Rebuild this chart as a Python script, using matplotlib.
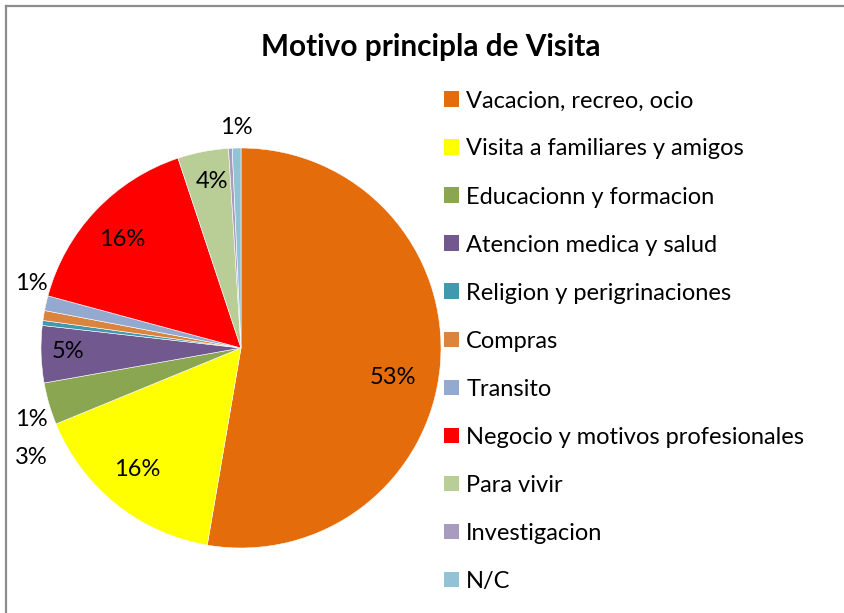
import matplotlib
matplotlib.use("Agg")
import matplotlib.pyplot as plt
import numpy as np
from matplotlib.lines import Line2D
from matplotlib.patches import Patch

plt.rcParams['font.family'] = ['Lato', 'DejaVu Sans']

title = "Motivo principla de Visita"
categories = [
    "Vacacion, recreo, ocio",
    "Visita a familiares y amigos",
    "Educacionn y formacion",
    "Atencion medica y salud",
    "Religion y perigrinaciones",
    "Compras",
    "Transito",
    "Negocio y motivos profesionales",
    "Para vivir",
    "Investigacion",
    "N/C",
]
shares = [52.7, 16.1, 3.4, 4.6, 0.4, 0.8, 1.2, 15.7, 4.1, 0.3, 0.7]
colors = ["#E46C0A", "#FFFF00", "#8BA650", "#71588F", "#4198AF", "#DB843D",
          "#93A9CF", "#FF0000", "#B9CD96", "#A99BBD", "#92C3D4"]

# label placement (x, y in pie-radius units) for each slice; None -> no label
label_pos = [
    (0.76, -0.15), (-0.52, -0.61), (-1.05, -0.545), (-0.865, -0.02),
    None, (-1.05, -0.36), (-1.05, 0.325), (-0.595, 0.54), (-0.145, 0.83),
    None, (-0.025, 1.105),
]

W, H = 844, 613
fig = plt.figure(figsize=(W / 100, H / 100), dpi=100)
fig.patch.set_facecolor("white")

# chart frame (top and left edges)
fig.add_artist(Line2D([6 / W, 6 / W], [0, 1 - 6 / H], color="#8C8C8C", lw=1.6,
                      transform=fig.transFigure))
fig.add_artist(Line2D([6 / W, 1], [1 - 6 / H, 1 - 6 / H], color="#8C8C8C", lw=1.6,
                      transform=fig.transFigure))

cx, cy, r = 241, 348, 200
ax = fig.add_axes([(cx - r) / W, (H - cy - r) / H, 2 * r / W, 2 * r / H])
ax.pie(shares, colors=colors, startangle=90, counterclock=False, radius=1,
       wedgeprops=dict(edgecolor="white", linewidth=0.4))
ax.set_xlim(-1, 1)
ax.set_ylim(-1, 1)
ax.set_aspect("equal")
ax.axis("off")

for val, pos in zip(shares, label_pos):
    if pos is None:
        continue
    ax.text(pos[0], pos[1], f"{val:.0f}%", ha="center", va="center",
            fontsize=17, color="black", clip_on=False)

fig.text(431 / W, 1 - 47 / H, title, ha="center", va="center",
         fontsize=21.4, fontweight="bold")

handles = [Patch(facecolor=c, edgecolor="none") for c in colors]
leg = fig.legend(handles, categories, loc="upper left",
                 bbox_to_anchor=(434.5 / W, 1 - 81 / H), frameon=False,
                 fontsize=17, handlelength=0.64, handleheight=0.64,
                 handletextpad=0.3, labelspacing=1.145, borderaxespad=0)

fig.savefig("out.png", dpi=100)
